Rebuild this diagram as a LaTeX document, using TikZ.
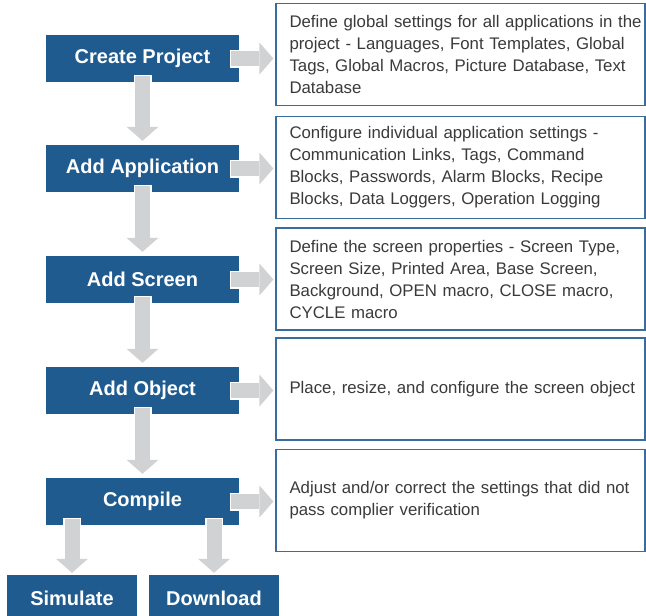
\documentclass[tikz,border=0pt]{standalone}
\usepackage{fontspec}
\setmainfont{Liberation Sans}
\usetikzlibrary{arrows.meta}
\definecolor{stepblue}{HTML}{1F5B8E}
\definecolor{noteline}{HTML}{3A6D9E}
\definecolor{arrowgray}{HTML}{D1D2D4}
\definecolor{notetext}{HTML}{3A3A3A}
\tikzset{
	stepbox/.style={fill=stepblue,text=white,minimum width=193pt,minimum height=47pt,inner sep=0pt,font=\bfseries\fontsize{20}{24}\selectfont},
	endbox/.style={stepbox,minimum width=130pt},
	notebox/.style={draw=noteline,line width=1.2pt,text=notetext,minimum height=102pt,text width=369pt,inner xsep=0pt,inner ysep=0pt,align=left,font=\fontsize{16.8}{22}\selectfont,execute at begin node={\leftskip=13.5pt}},
	flow/.style={draw=arrowgray,line width=15pt,-{Triangle[width=32pt,length=14pt,line width=0pt]},preaction={draw=white,line width=18pt,-,shorten <=-1.5pt}}
}
\begin{document}
\begin{tikzpicture}[x=1pt,y=-1pt,line join=miter]
	\clip (0,0) rectangle (646,616);
	\node[stepbox] (P) at (142.5,58.5) {Create Project};
	\node[stepbox] (A) at (142.5,168.5) {Add Application};
	\node[stepbox] (S) at (142.5,279.5) {Add Screen};
	\node[stepbox] (O) at (142.5,390.5) {Add Object};
	\node[stepbox] (C) at (142.5,501.5) {Compile};
	\node[endbox] (Sim) at (72,598.5) {Simulate};
	\node[endbox] (Dl) at (214,598.5) {Download};
	\node[notebox] (P') at (460.5,54.5) {Define global settings for all applications in the\\project - Languages, Font Templates, Global\\Tags, Global Macros, Picture Database, Text\\Database};
	\node[notebox] (A') at (460.5,167.5) {Configure individual application settings -\\Communication Links, Tags, Command\\Blocks, Passwords, Alarm Blocks, Recipe\\Blocks, Data Loggers, Operation Logging};
	\node[notebox] (S') at (460.5,279) {Define the screen properties - Screen Type,\\Screen Size, Printed Area, Base Screen,\\Background, OPEN macro, CLOSE macro,\\CYCLE macro};
	\node[notebox] (O') at (460.5,389) {Place, resize, and configure the screen object};
	\node[notebox] (C') at (460.5,500.5) {Adjust and/or correct the settings that did not\\pass complier verification};
	\foreach \x in {P,A,S,O,C}
	\draw[flow] ([xshift=-8pt]\x.east) -- ([xshift=-2pt]\x'.west |- \x.east);
	\draw[flow] ([yshift=6pt]P.south) -- ([yshift=4pt]A.north);
	\draw[flow] ([yshift=6pt]A.south) -- ([yshift=4pt]S.north);
	\draw[flow] ([yshift=6pt]S.south) -- ([yshift=4pt]O.north);
	\draw[flow] ([yshift=6pt]O.south) -- ([yshift=4pt]C.north);
	\draw[flow] ([yshift=6pt]C.south -| Sim.north) -- ([yshift=2pt]Sim.north);
	\draw[flow] ([yshift=6pt]C.south -| Dl.north) -- ([yshift=2pt]Dl.north);
\end{tikzpicture}
\end{document}
